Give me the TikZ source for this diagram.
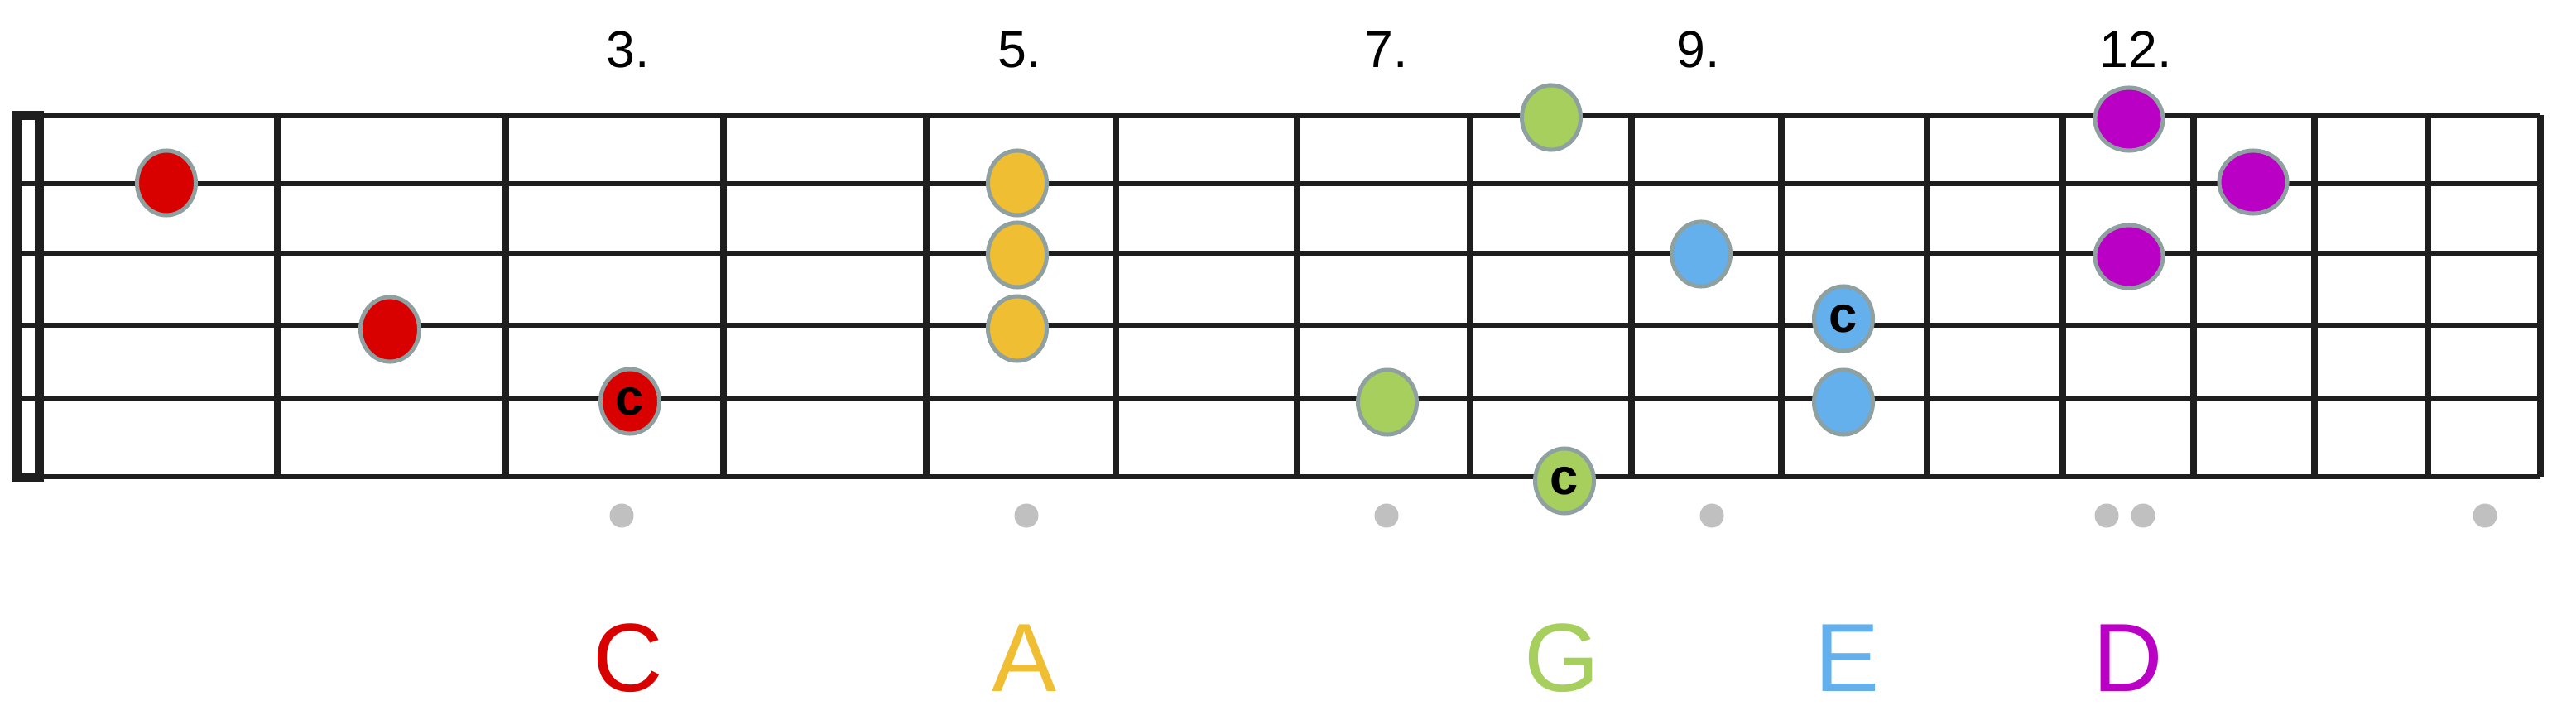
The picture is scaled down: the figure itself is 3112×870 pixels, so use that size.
\documentclass[tikz,border=0pt]{standalone}
\usepackage{fontspec}
\setmainfont{Liberation Sans}
\usepackage{tikz}
\usepackage{xcolor}
\usetikzlibrary{shapes,backgrounds}

\definecolor{cred}{HTML}{D90000}
\definecolor{ayellow}{HTML}{F0BE32}
\definecolor{ggreen}{HTML}{A7CF5E}
\definecolor{eblue}{HTML}{64B0EC}
\definecolor{dmagenta}{HTML}{BB00C5}
\definecolor{rimgray}{HTML}{8FA0A0}
\definecolor{markgray}{HTML}{C0C0C0}
\definecolor{wire}{HTML}{1E1E1E}

\begin{document}
\begin{tikzpicture}[x=0.01cm,y=-0.01cm,
                    string line/.style={draw=wire,line width=0.054cm},
                    fret line/.style={draw=wire,line width=0.076cm},
                    note node/.style={ellipse,draw=rimgray,line width=0.05cm,inner sep=0pt,
                      minimum width=0.71cm,minimum height=0.78cm,
                      font=\fontsize{17.5}{18}\selectfont\bfseries},
                    wide node/.style={note node,minimum width=0.82cm,minimum height=0.76cm},
                    mark dot/.style={circle,fill=markgray,inner sep=0pt,minimum size=0.29cm},
                    fret label/.style={anchor=base,inner sep=0pt,font=\fontsize{17.8}{20}\selectfont},
                    chord label/.style={anchor=base,inner sep=0pt,font=\fontsize{33.3}{36}\selectfont}]

  \useasboundingbox (0,0) rectangle (3112,870);

  % nut, strings and frets
  \draw[draw=wire,line width=0.11cm] (20.5,139.5) rectangle (47.5,577.5);
  \foreach \y in {139,222,306,393,482,576}
    \draw[string line] (15,\y) -- (3069,\y);
  \foreach \x in {335,611,874,1119,1348,1567,1776,1971,2152,2328,2492,2650,2796,2933,3069}
    \draw[fret line] (\x,139) -- (\x,576);

  % fret numbers
  \node[fret label] (n3) at (759,82) {3.};
  \node[fret label] (n5) at (1232,82) {5.};
  \node[fret label] (n7) at (1675,82) {7.};
  \node[fret label] (n9) at (2052,82) {9.};
  \node[fret label] (n12) at (2580,82) {12.};

  % inlay marks
  \node[mark dot] (m3) at (751,623) {};
  \node[mark dot] (m5) at (1240,623) {};
  \node[mark dot] (m7) at (1675,623) {};
  \node[mark dot] (m9) at (2068,623) {};
  \node[mark dot] (m12a) at (2545,623) {};
  \node[mark dot] (m12b) at (2589,623) {};
  \node[mark dot] (m15) at (3002,623) {};

  % C shape
  \node[note node,fill=cred] (c1) at (201,221) {};
  \node[note node,fill=cred] (c2) at (471,398) {};
  \node[note node,fill=cred] (c3) at (761,485) {c};

  % A shape
  \node[note node,fill=ayellow] (a1) at (1229,221) {};
  \node[note node,fill=ayellow] (a2) at (1229,308) {};
  \node[note node,fill=ayellow] (a3) at (1229,397) {};

  % G shape
  \node[note node,fill=ggreen] (g1) at (1874,142) {};
  \node[note node,fill=ggreen] (g2) at (1676,486) {};
  \node[note node,fill=ggreen] (g3) at (1890,581) {c};

  % E shape
  \node[note node,fill=eblue] (e1) at (2055,307) {};
  \node[note node,fill=eblue] (e2) at (2227,385) {c};
  \node[note node,fill=eblue] (e3) at (2227,486) {};

  % D shape
  \node[wide node,fill=dmagenta] (d1) at (2572,144) {};
  \node[wide node,fill=dmagenta] (d2) at (2722,220) {};
  \node[wide node,fill=dmagenta] (d3) at (2572,310) {};

  % shape names
  \node[chord label,text=cred] (lc) at (759,835) {C};
  \node[chord label,text=ayellow] (la) at (1238,835) {A};
  \node[chord label,text=ggreen] (lg) at (1887,835) {G};
  \node[chord label,text=eblue] (le) at (2232,835) {E};
  \node[chord label,text=dmagenta] (ld) at (2571,835) {D};
\end{tikzpicture}
\end{document}
